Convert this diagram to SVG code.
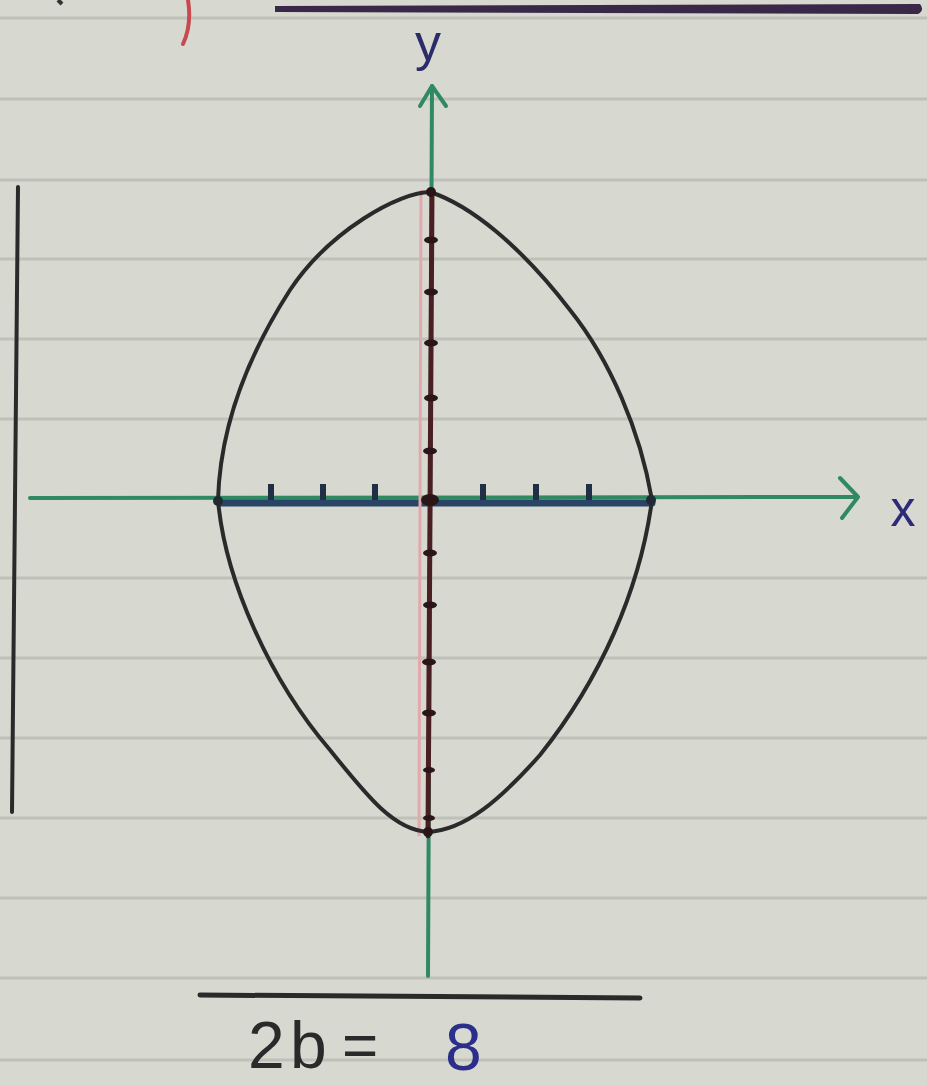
<svg xmlns="http://www.w3.org/2000/svg" width="927" height="1086" viewBox="0 0 927 1086">
<style>
.rule{stroke:#bfc1b9;stroke-width:3;fill:none}
.ink{stroke:#2a2a2a;fill:none;stroke-linecap:round;stroke-linejoin:round}
.green{stroke:#2f8a63;fill:none;stroke-width:4;stroke-linecap:round;stroke-linejoin:round}
.hand{font-family:"Liberation Sans",Arial,sans-serif}
</style>
<rect width="927" height="1086" fill="#d7d8d0"/>
<g id="paper-lines">
<line class="rule" x1="0" y1="18" x2="927" y2="18"/>
<line class="rule" x1="0" y1="99" x2="927" y2="99"/>
<line class="rule" x1="0" y1="180" x2="927" y2="180"/>
<line class="rule" x1="0" y1="259" x2="927" y2="259"/>
<line class="rule" x1="0" y1="339" x2="927" y2="339"/>
<line class="rule" x1="0" y1="419" x2="927" y2="419"/>
<line class="rule" x1="0" y1="578" x2="927" y2="578"/>
<line class="rule" x1="0" y1="658" x2="927" y2="658"/>
<line class="rule" x1="0" y1="738" x2="927" y2="738"/>
<line class="rule" x1="0" y1="818" x2="927" y2="818"/>
<line class="rule" x1="0" y1="898" x2="927" y2="898"/>
<line class="rule" x1="0" y1="978" x2="927" y2="978"/>
<line class="rule" x1="0" y1="1060" x2="927" y2="1060"/>
</g>
<g id="top-marks">
<path d="M275 6 L920 4 Q925 10 918 14 L275 12 Z" fill="#3a2848"/>
<path d="M188 0 Q192 25 183 44" stroke="#c84a50" stroke-width="4" fill="none" stroke-linecap="round"/>
<path d="M58 0 L62 4" stroke="#333" stroke-width="4" fill="none"/>
</g>
<g id="left-bar">
<line class="ink" x1="18" y1="187" x2="12" y2="812" stroke-width="4"/>
</g>
<g id="connectors">
<line class="green" x1="428" y1="976" x2="432" y2="86"/>
<path class="green" d="M420 106 L432 86 L446 106"/>
<line class="green" x1="30" y1="498" x2="856" y2="497"/>
<path class="green" d="M840 478 L858 497 L842 518"/>
</g>
<g id="minor-axis">
<line x1="220" y1="503" x2="652" y2="503" stroke="#2a4466" stroke-width="7" stroke-linecap="round"/>
<g fill="#1f2f45">
<rect x="268" y="484" width="6" height="16"/>
<rect x="320" y="484" width="6" height="16"/>
<rect x="372" y="484" width="6" height="16"/>
<rect x="480" y="484" width="6" height="16"/>
<rect x="533" y="484" width="6" height="16"/>
<rect x="586" y="484" width="6" height="16"/>
</g>
</g>
<g id="major-axis">
<line x1="421" y1="190" x2="419" y2="836" stroke="#e2a9ad" stroke-width="3"/>
<line x1="432" y1="190" x2="428" y2="836" stroke="#4a1f22" stroke-width="5" stroke-linecap="round"/>
<g fill="#2a1618">
<ellipse cx="431" cy="240" rx="7" ry="3.5"/>
<ellipse cx="431" cy="292" rx="7" ry="3.5"/>
<ellipse cx="431" cy="343" rx="7" ry="3.5"/>
<ellipse cx="431" cy="398" rx="7" ry="3.5"/>
<ellipse cx="430" cy="451" rx="7" ry="3.5"/>
<ellipse cx="430" cy="500" rx="9" ry="6"/>
<ellipse cx="430" cy="553" rx="7" ry="3.5"/>
<ellipse cx="430" cy="605" rx="7" ry="3.5"/>
<ellipse cx="429" cy="662" rx="7" ry="3.5"/>
<ellipse cx="429" cy="713" rx="7" ry="3.5"/>
<ellipse cx="429" cy="770" rx="6" ry="3"/>
<ellipse cx="429" cy="818" rx="6" ry="3"/>
</g>
</g>
<g id="ellipse-curve">
<path class="ink" stroke-width="4" d="M430 192 C400 192 330 230 290 290 C245 360 220 430 218 500 C225 580 270 680 330 750 C370 800 395 830 428 832 C465 830 500 800 540 755 C600 680 640 590 652 500 C640 430 610 360 570 310 C520 245 470 205 430 192 Z"/>
<circle cx="218" cy="501" r="5" fill="#1f2a33"/>
<circle cx="651" cy="500" r="5" fill="#1f2a33"/>
<circle cx="431" cy="192" r="5" fill="#2a1618"/>
<circle cx="428" cy="832" r="5" fill="#2a1618"/>
</g>
<g id="labels">
<text class="hand" x="428" y="60" font-size="52" fill="#2b2d6a" text-anchor="middle">y</text>
<text class="hand" x="903" y="526" font-size="50" fill="#2d2a78" text-anchor="middle">x</text>
</g>
<g id="result">
<line class="ink" x1="200" y1="995" x2="640" y2="998" stroke-width="5"/>
<text class="hand" x="248" y="1068" font-size="66" fill="#2a2a2a">2</text>
<text class="hand" x="290" y="1068" font-size="66" fill="#2a2a2a">b</text>
<text class="hand" x="342" y="1066" font-size="62" fill="#2a2a2a">=</text>
<text class="hand" x="445" y="1070" font-size="66" fill="#2c2f8a">8</text>
</g>
</svg>
